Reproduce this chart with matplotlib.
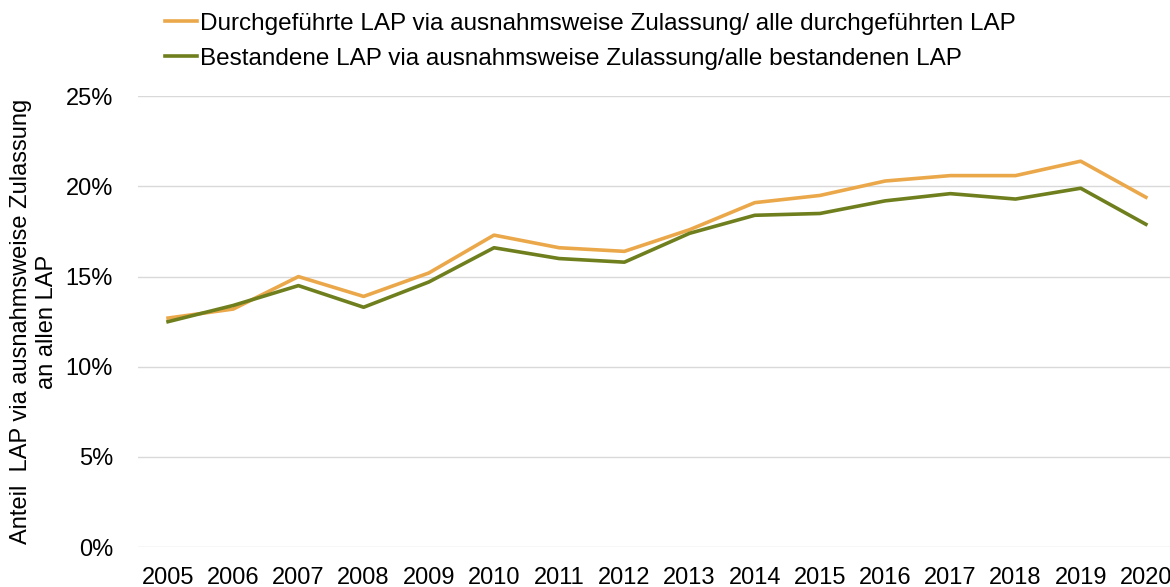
import numpy as np
import matplotlib.pyplot as plt
from matplotlib.ticker import FuncFormatter

plt.rcParams["font.family"] = ["Liberation Sans", "DejaVu Sans"]

years = ["2005", "2006", "2007", "2008", "2009", "2010", "2011", "2012",
         "2013", "2014", "2015", "2016", "2017", "2018", "2019", "2020"]
durchgefuehrt = [12.7, 13.2, 15.0, 13.9, 15.2, 17.3, 16.6, 16.4,
                 17.6, 19.1, 19.5, 20.3, 20.6, 20.6, 21.4, 19.4]
bestanden = [12.5, 13.4, 14.5, 13.3, 14.7, 16.6, 16.0, 15.8,
             17.4, 18.4, 18.5, 19.2, 19.6, 19.3, 19.9, 17.9]
yticks = [0, 5, 10, 15, 20, 25]

fig = plt.figure(figsize=(11.7, 5.87), dpi=100)
ax = fig.add_axes([0.118, 0.068, 0.882, 0.768])

x = np.arange(len(years))
ax.plot(x, durchgefuehrt, color="#EBA84A", lw=2.6,
        label="Durchgeführte LAP via ausnahmsweise Zulassung/ alle durchgeführten LAP")
ax.plot(x, bestanden, color="#6F7F1E", lw=2.6,
        label="Bestandene LAP via ausnahmsweise Zulassung/alle bestandenen LAP")

ax.set_xlim(-0.46, 15.37)
ax.set_ylim(0, 25)
ax.set_yticks(yticks)
ax.yaxis.set_major_formatter(FuncFormatter(lambda v, p: "%d%%" % v))
ax.set_xticks(x)
ax.set_xticklabels(years)
ax.tick_params(axis="both", length=0, labelsize=17)
ax.tick_params(axis="x", pad=14)
ax.tick_params(axis="y", pad=18)
ax.grid(axis="y", color="#D9D9D9", lw=1)
ax.set_axisbelow(True)
for s in ax.spines.values():
    s.set_visible(False)

ax.set_ylabel("Anteil  LAP via ausnahmsweise Zulassung\nan allen LAP", fontsize=17)
ax.yaxis.set_label_coords(-0.078, 0.5)

fig.legend(loc="upper left", bbox_to_anchor=(0.135, 0.991), frameon=False,
           fontsize=17.5, handlelength=1.3, handletextpad=0.15, labelspacing=0.55,
           borderpad=0.3, borderaxespad=0)

fig.savefig("out.png", dpi=100)
